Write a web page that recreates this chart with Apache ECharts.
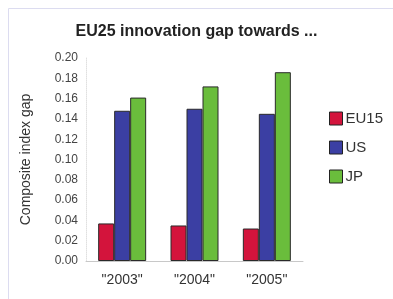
<!DOCTYPE html>
<html><head><meta charset="utf-8">
<script src="https://cdn.jsdelivr.net/npm/echarts@6/dist/echarts.min.js"></script>
<style>html,body{margin:0;padding:0;background:#fff}#c{width:393px;height:299px}</style>
</head><body><div id="c"></div>
<script>
var title = 'EU25 innovation gap towards ...';
var categories = ['"2003"', '"2004"', '"2005"'];
var seriesNames = ['EU15', 'US', 'JP'];
var eu15 = [0.037, 0.035, 0.032];
var us = [0.148, 0.150, 0.145];
var jp = [0.161, 0.172, 0.186];
var yTicks = [0, 0.02, 0.04, 0.06, 0.08, 0.10, 0.12, 0.14, 0.16, 0.18, 0.20];
var colors = ['#d3143c', '#3b3fa3', '#6abd3c'];

var chart = echarts.init(document.getElementById('c'));
var data = [eu15, us, jp];
chart.setOption({
  animation: false,
  backgroundColor: '#fff',
  graphic: [
    {type: 'rect', shape: {x: 8.5, y: 8.5, width: 400, height: 300}, style: {fill: 'none', stroke: '#dcdcf0', lineWidth: 1}, z: -1}
  ],
  title: {
    text: title, left: 'center', top: 19,
    textStyle: {fontFamily: 'Liberation Sans', fontSize: 16, fontWeight: 'bold', color: '#222'}
  },
  legend: {
    orient: 'vertical', left: 324, top: 106, itemGap: 14,
    itemWidth: 13, itemHeight: 13,
    textStyle: {fontFamily: 'Liberation Sans', fontSize: 15, color: '#333', padding: [0, 0, 0, -2]},
    data: seriesNames.map(function (n, i) { return {name: n, icon: 'rect', itemStyle: {borderColor: '#222', borderWidth: 1}}; })
  },
  grid: {left: 86, right: 90, top: 58, bottom: 38},
  xAxis: {
    type: 'category', data: categories,
    axisLine: {lineStyle: {color: '#c8c8c8'}},
    axisTick: {show: false},
    axisLabel: {fontFamily: 'Liberation Sans', fontSize: 14, color: '#333', margin: 12}
  },
  yAxis: {
    type: 'value', min: 0, max: 0.2, interval: 0.02,
    name: 'Composite index gap', nameLocation: 'middle', nameGap: 53,
    nameTextStyle: {fontFamily: 'Liberation Sans', fontSize: 14, color: '#333'},
    axisLine: {show: true, lineStyle: {color: '#e0e0e0', type: 'dotted'}},
    axisTick: {show: false},
    splitLine: {show: false},
    axisLabel: {fontFamily: 'Liberation Sans', fontSize: 12, color: '#444', margin: 8,
      formatter: function (v) { return v.toFixed(2); }}
  },
  series: seriesNames.map(function (n, i) {
    return {
      name: n, type: 'bar', data: data[i], barWidth: 16, barGap: '0%',
      itemStyle: {color: colors[i], borderColor: '#2a2a2a', borderWidth: 1}
    };
  })
});
</script></body></html>
